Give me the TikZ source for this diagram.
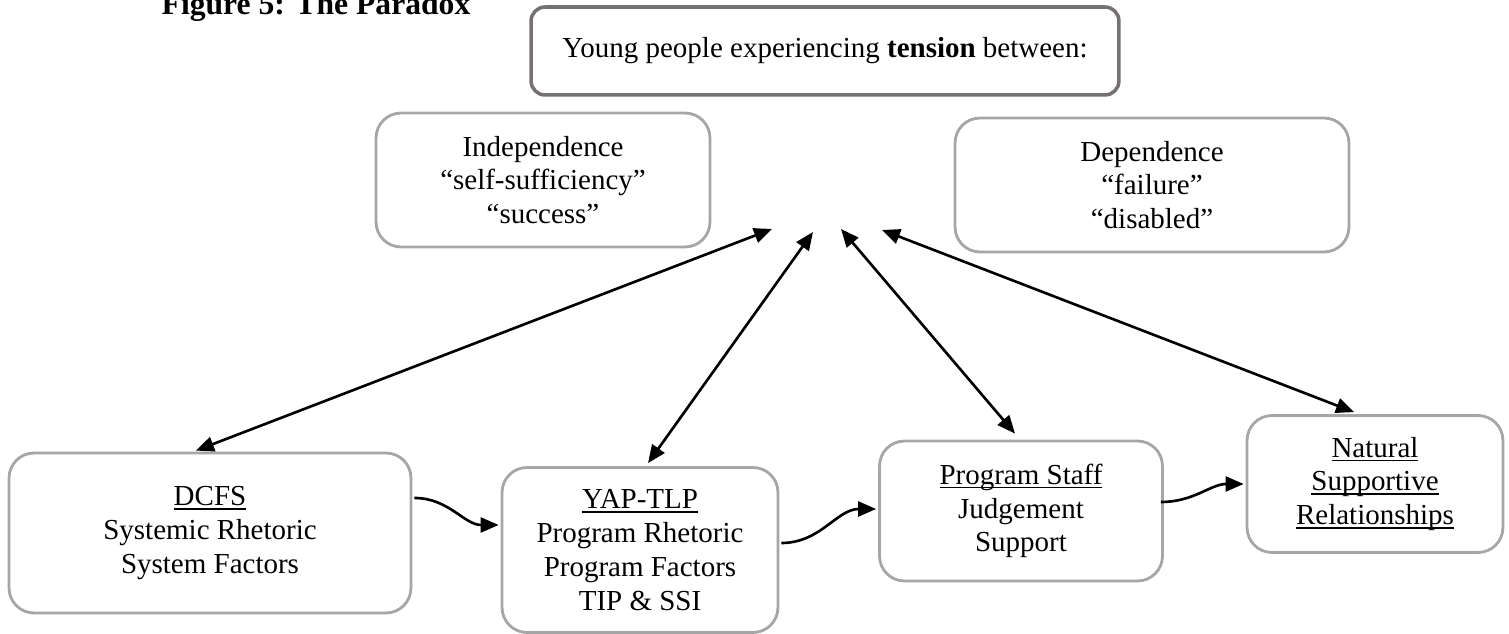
\documentclass[tikz,border=0pt]{standalone}
\usepackage{fontspec}
\setmainfont{Liberation Serif}
\usetikzlibrary{arrows.meta,calc}
\definecolor{boxgray}{RGB}{166,166,166}
\definecolor{topgray}{RGB}{118,113,113}
\newcommand{\undl}[1]{\setbox0\hbox{#1}\rlap{\rule[-0.08cm]{\wd0}{0.9pt}}\box0}

\begin{document}
\begin{tikzpicture}[x=0.02cm,y=-0.02cm]
\tikzset{box/.style={draw=boxgray,line width=1.6pt,rounded corners=0.5cm,align=center,
    inner sep=0pt,font=\fontsize{16.5}{19.2}\selectfont},
  link/.style={line width=1.5pt,{Triangle[length=0.36cm,width=0.3cm]}-{Triangle[length=0.36cm,width=0.3cm]}},
  flow/.style={line width=1.5pt,-{Triangle[length=0.36cm,width=0.3cm]}}}
\useasboundingbox (0,0) rectangle (1509,634);
\node[font=\bfseries\fontsize{18}{21}\selectfont,anchor=base] (title) at (316,15) {Figure 5: The Paradox};
\node[box,draw=topgray,line width=2pt,rounded corners=0.28cm,minimum width=11.76cm,minimum height=1.76cm] (tension) at (825,51)
  {Young people experiencing \textbf{tension} between:};
\node[box,minimum width=6.68cm,minimum height=2.68cm] (indep) at (543,180) {Independence\\“self-sufficiency”\\“success”};
\node[box,minimum width=7.88cm,minimum height=2.68cm] (dep) at (1152,185) {Dependence\\“failure”\\“disabled”};
\node[box,minimum width=8.04cm,minimum height=3.2cm] (dcfs) at (210,533) {\undl{DCFS}\\Systemic Rhetoric\\System Factors};
\node[box,minimum width=5.52cm,minimum height=3.3cm] (yap) at (640,550) {\undl{YAP-TLP}\\Program Rhetoric\\Program Factors\\TIP \& SSI};
\node[box,minimum width=5.66cm,minimum height=2.8cm] (staff) at (1021,511) {\undl{Program Staff}\\Judgement\\Support};
\node[box,minimum width=5.12cm,minimum height=2.74cm] (nat) at (1375,484) {\undl{Natural}\\\undl{Supportive}\\\undl{Relationships}};
\coordinate (m1) at (772,229);
\coordinate (m2) at (813,232);
\coordinate (m3) at (841,229);
\coordinate (m4) at (882,230);
\draw[link] (m1) -- ($(dcfs.north)+(-14,-1)$);
\draw[link] (m2) -- ($(yap.north)+(8,-3)$);
\draw[link] (m3) -- ($(staff.north)+(-6,-6)$);
\draw[link] (m4) -- ($(nat.north)+(-21,-2)$);
\draw[flow] ($(dcfs.east)+(2,-35)$) to[out=0,in=180] ($(yap.west)+(-2,-25)$);
\draw[flow] ($(yap.east)+(2,-7)$) to[out=0,in=180] ($(staff.west)+(-2,-2)$);
\draw[flow] ($(staff.east)+(-3,-9)$) to[out=0,in=180] ($(nat.west)+(-2,0)$);
\end{tikzpicture}
\end{document}
